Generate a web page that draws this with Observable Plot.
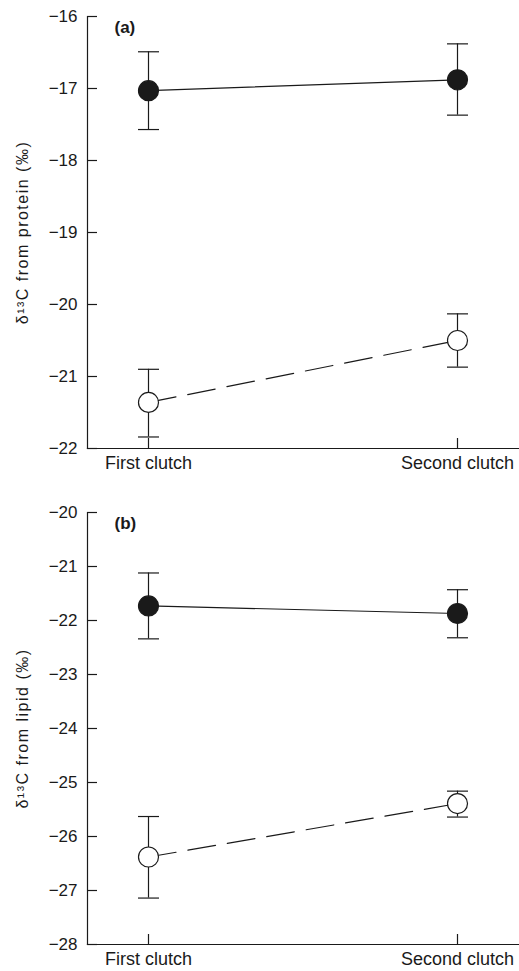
<!DOCTYPE html>
<html><head><meta charset="utf-8">
<script src="https://cdn.jsdelivr.net/npm/d3@7"></script>
<script src="https://cdn.jsdelivr.net/npm/@observablehq/plot@0.6"></script>
<style>
body{margin:0;background:#fff}
#chart svg{display:block}
</style>
</head><body><div id="chart"></div>
<script>
const clutches = ["First clutch", "Second clutch"];

// Panel (a): δ13C from protein (‰)
const proteinFilledMean = [-17.03, -16.88];
const proteinFilledLow  = [-17.57, -17.37];
const proteinFilledHigh = [-16.49, -16.38];
const proteinOpenMean   = [-21.36, -20.50];
const proteinOpenLow    = [-21.84, -20.87];
const proteinOpenHigh   = [-20.90, -20.13];
const proteinTicks = [-22, -21, -20, -19, -18, -17, -16];

// Panel (b): δ13C from lipid (‰)
const lipidFilledMean = [-21.73, -21.87];
const lipidFilledLow  = [-22.34, -22.32];
const lipidFilledHigh = [-21.12, -21.43];
const lipidOpenMean   = [-26.38, -25.39];
const lipidOpenLow    = [-27.14, -25.64];
const lipidOpenHigh   = [-25.63, -25.16];
const lipidTicks = [-28, -27, -26, -25, -24, -23, -22, -21, -20];

function rows(series, mean, low, high) {
  return clutches.map((c, i) => ({clutch: c, series, mean: mean[i], low: low[i], high: high[i]}));
}

const ink = "#1a1a1a";
// horizontal cap symbol for error bars
const capSymbol = {draw(context) { context.moveTo(-10.5, 0); context.lineTo(10.5, 0); }};

function panel({filled, open, ticks, label, tag, height, marginTop, marginBottom}) {
  const all = filled.concat(open);
  return Plot.plot({
    width: 519, height, marginLeft: 87, marginRight: 0, marginTop, marginBottom,
    style: {fontFamily: "'Liberation Sans', Arial, sans-serif", fontSize: "16px", color: ink, background: "#fff"},
    x: {type: "point", domain: clutches, range: [148, 457], padding: 0},
    y: {domain: [d3.min(ticks), d3.max(ticks)]},
    marks: [
      Plot.frame({anchor: "left", stroke: ink, strokeWidth: 1.2}),
      Plot.frame({anchor: "bottom", stroke: ink, strokeWidth: 1.2}),
      Plot.axisY({ticks, tickSize: -10, tickPadding: 20, tickFormat: d3.format("d"), label: null, stroke: ink, strokeWidth: 1.2, fontSize: 17}),
      Plot.axisX({tickSize: -10, tickPadding: 18, label: null, stroke: ink, strokeWidth: 1.2, fontSize: 18}),
      Plot.line(filled, {x: "clutch", y: "mean", stroke: ink, strokeWidth: 1.2}),
      Plot.line(open, {x: "clutch", y: "mean", stroke: ink, strokeWidth: 1.2, strokeDasharray: "28,12"}),
      Plot.ruleX(all, {x: "clutch", y1: "low", y2: "high", stroke: ink, strokeWidth: 1.2}),
      Plot.dot(all, {x: "clutch", y: "low", symbol: capSymbol, fill: "none", stroke: ink, strokeWidth: 1.2}),
      Plot.dot(all, {x: "clutch", y: "high", symbol: capSymbol, fill: "none", stroke: ink, strokeWidth: 1.2}),
      Plot.dot(filled, {x: "clutch", y: "mean", r: 10, fill: ink, stroke: ink, strokeWidth: 1.2}),
      Plot.dot(open, {x: "clutch", y: "mean", r: 10, fill: "#fff", stroke: ink, strokeWidth: 1.2}),
      Plot.text([tag], {frameAnchor: "top-left", dx: 27, dy: 4, textAnchor: "start", fontWeight: "bold", fontSize: 17, fill: ink}),
      Plot.text([label], {frameAnchor: "left", dx: -65, rotate: -90, textAnchor: "middle", lineAnchor: "middle", fontSize: 16, fill: ink})
    ]
  });
}

const a = panel({
  filled: rows("filled", proteinFilledMean, proteinFilledLow, proteinFilledHigh),
  open: rows("open", proteinOpenMean, proteinOpenLow, proteinOpenHigh),
  ticks: proteinTicks, label: "δ¹³C from protein (‰)", tag: "(a)",
  height: 485, marginTop: 16, marginBottom: 37
});
const b = panel({
  filled: rows("filled", lipidFilledMean, lipidFilledLow, lipidFilledHigh),
  open: rows("open", lipidOpenMean, lipidOpenLow, lipidOpenHigh),
  ticks: lipidTicks, label: "δ¹³C from lipid (‰)", tag: "(b)",
  height: 486, marginTop: 27, marginBottom: 27
});
const chart = document.getElementById("chart");
chart.append(a, b);
for (const t of chart.querySelectorAll("text")) {
  if (/from/.test(t.textContent)) t.setAttribute("letter-spacing", "1.5");
}
</script>
</body></html>
